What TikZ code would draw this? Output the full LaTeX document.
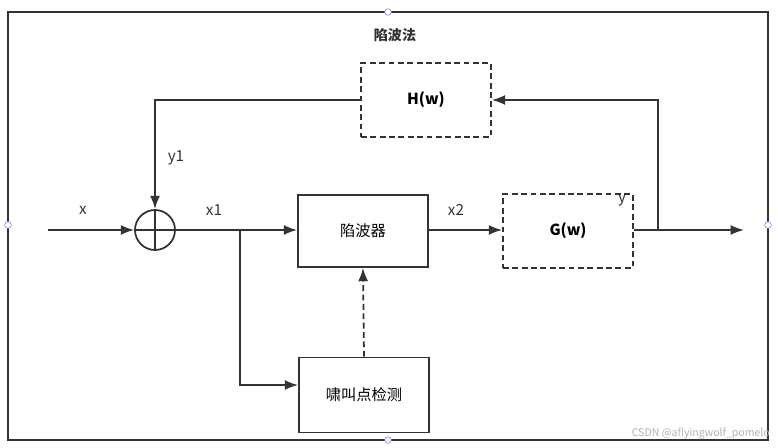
\documentclass[tikz,border=0pt]{standalone}
\usepackage{fontspec}
\setmainfont{Noto Sans CJK SC}
\usetikzlibrary{arrows.meta}
\definecolor{ink}{HTML}{333333}
\tikzstyle{block} = [rectangle, draw=ink, line width=1.5pt, minimum width=3.9cm, minimum height=2.16cm, text centered, font=\fontsize{13}{15}\selectfont]
\tikzstyle{dblock} = [block, dash pattern=on 5pt off 3pt, minimum height=2.2cm]
\tikzstyle{arrow} = [-{Latex[length=4mm,width=3mm]}, line width=1.5pt, draw=ink]
\tikzstyle{lbl} = [font=\fontsize{13}{15}\selectfont, text=ink]
\tikzstyle{handle} = [circle, draw=blue!60, fill=white, inner sep=0pt, minimum size=2mm]

\begin{document}
\begin{tikzpicture}[x=0.03cm, y=-0.03cm]
	\useasboundingbox (0,0) rectangle (778,448);
	\draw[ink, line width=1.2pt] (8,12) rectangle (768,440);
	\node (hl) [handle] at (8,225) {};
	\node (hr) [handle] at (768,225) {};
	\node (ht) [handle] at (388,12) {};
	\node (hb) [handle] at (388,440) {};
	\node (title) [lbl, font=\bfseries\fontsize{12}{14}\selectfont] at (395,35) {陷波法};
	
	\node (hw) [dblock, font=\bfseries\fontsize{13}{15}\selectfont] at (426,100) {H(w)};
	\node (sum) [circle, draw=ink, line width=1.5pt, minimum size=1.2cm] at (155,230) {};
	\draw[ink, line width=1.5pt] (sum.north) -- (sum.south) (sum.west) -- (sum.east);
	\node (notch) [block] at (363,231) {陷波器};
	\node (detect) [block, minimum height=2.25cm] at (364,395) {啸叫点检测};
	\node (gw) [dblock, font=\bfseries\fontsize{13}{15}\selectfont] at (568,231) {G(w)};
	\coordinate (in) at (48,230);
	\coordinate (out) at (744,230);
	\coordinate (split) at (240,230);
	\coordinate (tap) at (658,230);
	
	\draw [arrow](in) -- (sum.west);
	\draw [arrow](sum.east) -- (sum.east -| notch.west);
	\draw [arrow](split) |- (detect.west |- 0,385);
	\draw [arrow, dash pattern=on 5pt off 3pt](detect.north) -- (notch.south);
	\draw [arrow](notch.east |- 0,230) -- (gw.west |- 0,230);
	\draw [arrow](gw.east |- 0,230) -- (out);
	\draw [arrow](tap) |- (hw.east);
	\draw [arrow](hw.west) -| (sum.north);
	
	\node (lx) [lbl] at (83,210) {x};
	\node (ly1) [lbl] at (176,158) {y1};
	\node (lx1) [lbl] at (214,210) {x1};
	\node (lx2) [lbl] at (456,210) {x2};
	\node (ly) [lbl] at (622,200) {y};
	\node (mark) [text=gray!60, font=\fontsize{9}{11}\selectfont, anchor=east] at (774,434) {CSDN @aflyingwolf\_pomelo};
\end{tikzpicture}
\end{document}
